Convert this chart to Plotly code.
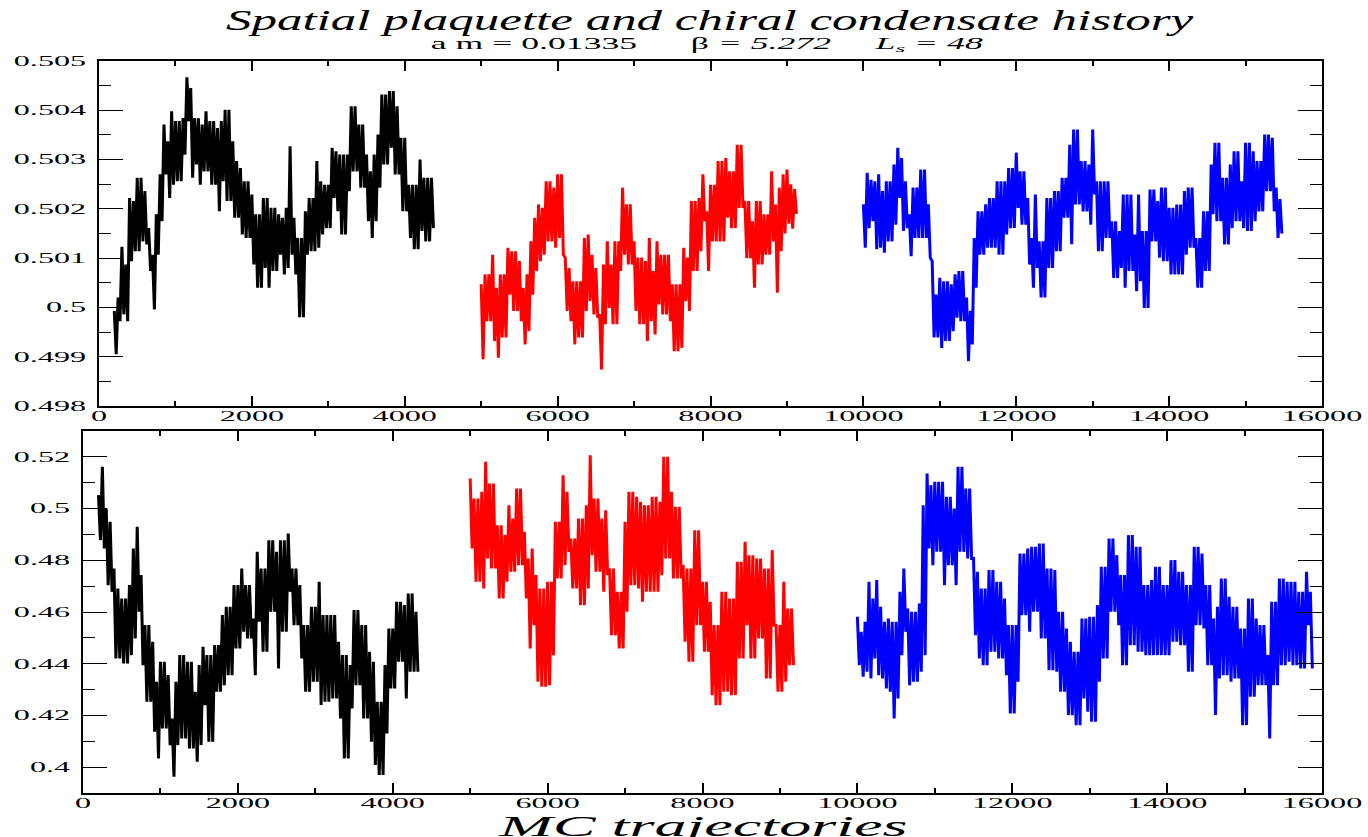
import plotly.graph_objects as go

# Monte Carlo history of three independent streams.  For every block of STEP
# trajectories the highest and the lowest measurement of the block are stored;
# the curve visits the high value first and the low value half a block later.
STEP = 50

# ---------------- spatial plaquette ----------------
PLAQ_START = [200, 5000, 10000]

PLAQ1_HI = [
    0.49993, 0.50020, 0.50123, 0.50087, 0.50222, 0.50216, 0.50263, 0.50263, 0.50236, 0.50161,
    0.50107, 0.50189, 0.50270, 0.50371, 0.50337, 0.50398, 0.50378, 0.50378, 0.50384, 0.50467,
    0.50445, 0.50384, 0.50384, 0.50371, 0.50398, 0.50378, 0.50378, 0.50364, 0.50378, 0.50401,
    0.50401, 0.50337, 0.50297, 0.50283, 0.50256, 0.50256, 0.50229, 0.50189, 0.50189, 0.50222,
    0.50222, 0.50202, 0.50202, 0.50189, 0.50182, 0.50202, 0.50327, 0.50182, 0.50141, 0.50141,
    0.50195, 0.50222, 0.50222, 0.50297, 0.50256, 0.50249, 0.50249, 0.50324, 0.50317, 0.50310,
    0.50310, 0.50310, 0.50408, 0.50408, 0.50371, 0.50371, 0.50310, 0.50276, 0.50310, 0.50351,
    0.50432, 0.50432, 0.50439, 0.50439, 0.50408, 0.50344, 0.50344, 0.50249, 0.50249, 0.50249,
    0.50300, 0.50263, 0.50263, 0.50263,
]
PLAQ1_LO = [
    0.49905, 0.49972, 0.49986, 0.49972, 0.50094, 0.50114, 0.50114, 0.50134, 0.50128, 0.50074,
    0.49996, 0.50107, 0.50175, 0.50270, 0.50222, 0.50249, 0.50256, 0.50256, 0.50310, 0.50378,
    0.50263, 0.50290, 0.50249, 0.50276, 0.50276, 0.50249, 0.50249, 0.50195, 0.50256, 0.50216,
    0.50216, 0.50182, 0.50182, 0.50148, 0.50141, 0.50141, 0.50087, 0.50040, 0.50040, 0.50080,
    0.50040, 0.50074, 0.50074, 0.50107, 0.50067, 0.50080, 0.50107, 0.50067, 0.49980, 0.49980,
    0.50107, 0.50114, 0.50114, 0.50121, 0.50148, 0.50161, 0.50161, 0.50222, 0.50195, 0.50148,
    0.50148, 0.50236, 0.50276, 0.50276, 0.50243, 0.50243, 0.50175, 0.50141, 0.50175, 0.50243,
    0.50290, 0.50290, 0.50324, 0.50270, 0.50270, 0.50195, 0.50195, 0.50141, 0.50118, 0.50118,
    0.50155, 0.50134, 0.50134, 0.50161,
]

PLAQ2_HI = [
    0.50047, 0.50067, 0.50067, 0.50107, 0.50040, 0.50067, 0.50067, 0.50121, 0.50114, 0.50114,
    0.50094, 0.50040, 0.50067, 0.50134, 0.50182, 0.50209, 0.50202, 0.50256, 0.50256, 0.50243,
    0.50270, 0.50270, 0.50101, 0.50080, 0.50053, 0.50053, 0.50053, 0.50141, 0.50148, 0.50107,
    0.50080, 0.49986, 0.50087, 0.50134, 0.50087, 0.50134, 0.50134, 0.50243, 0.50209, 0.50209,
    0.50134, 0.50101, 0.50101, 0.50094, 0.50141, 0.50074, 0.50134, 0.50107, 0.50107, 0.50107,
    0.50047, 0.50047, 0.50047, 0.50121, 0.50101, 0.50216, 0.50216, 0.50222, 0.50270, 0.50195,
    0.50249, 0.50249, 0.50297, 0.50297, 0.50303, 0.50276, 0.50276, 0.50330, 0.50330, 0.50216,
    0.50216, 0.50175, 0.50216, 0.50216, 0.50189, 0.50189, 0.50276, 0.50209, 0.50243, 0.50270,
    0.50280, 0.50250, 0.50240,
]
PLAQ2_LO = [
    0.49895, 0.49972, 0.49972, 0.49932, 0.49898, 0.49939, 0.49939, 0.50026, 0.49993, 0.49993,
    0.49972, 0.49925, 0.49952, 0.50026, 0.50074, 0.50094, 0.50107, 0.50134, 0.50134, 0.50121,
    0.50141, 0.50107, 0.49993, 0.49972, 0.49925, 0.49939, 0.49939, 0.49993, 0.50013, 0.49986,
    0.49979, 0.49874, 0.49966, 0.49999, 0.49966, 0.49966, 0.50074, 0.50107, 0.50087, 0.50087,
    0.49993, 0.49966, 0.49966, 0.49932, 0.49972, 0.49945, 0.50006, 0.49986, 0.49986, 0.49972,
    0.49911, 0.49911, 0.49918, 0.50013, 0.49993, 0.50074, 0.50074, 0.50114, 0.50175, 0.50074,
    0.50134, 0.50134, 0.50134, 0.50134, 0.50182, 0.50161, 0.50161, 0.50202, 0.50202, 0.50100,
    0.50100, 0.50040, 0.50087, 0.50087, 0.50107, 0.50107, 0.50134, 0.50030, 0.50114, 0.50150,
    0.50170, 0.50160, 0.50190,
]

PLAQ3_HI = [
    0.50209, 0.50273, 0.50259, 0.50256, 0.50270, 0.50236, 0.50256, 0.50256, 0.50290, 0.50324,
    0.50303, 0.50256, 0.50189, 0.50243, 0.50243, 0.50280, 0.50280, 0.50209, 0.50094, 0.50026,
    0.50060, 0.50053, 0.50053, 0.50047, 0.50067, 0.50074, 0.50074, 0.50020, 0.49993, 0.50141,
    0.50195, 0.50195, 0.50209, 0.50222, 0.50222, 0.50256, 0.50256, 0.50256, 0.50283, 0.50283,
    0.50314, 0.50276, 0.50276, 0.50222, 0.50141, 0.50229, 0.50134, 0.50134, 0.50222, 0.50222,
    0.50236, 0.50236, 0.50263, 0.50263, 0.50330, 0.50361, 0.50361, 0.50297, 0.50297, 0.50290,
    0.50361, 0.50256, 0.50256, 0.50256, 0.50256, 0.50175, 0.50175, 0.50155, 0.50229, 0.50229,
    0.50229, 0.50148, 0.50229, 0.50155, 0.50155, 0.50239, 0.50239, 0.50216, 0.50243, 0.50243,
    0.50202, 0.50202, 0.50209, 0.50209, 0.50236, 0.50243, 0.50243, 0.50141, 0.50141, 0.50195,
    0.50195, 0.50290, 0.50334, 0.50334, 0.50263, 0.50263, 0.50290, 0.50317, 0.50317, 0.50256,
    0.50334, 0.50334, 0.50317, 0.50297, 0.50297, 0.50351, 0.50351, 0.50344, 0.50243, 0.50220,
]
PLAQ3_LO = [
    0.50121, 0.50161, 0.50175, 0.50118, 0.50121, 0.50111, 0.50134, 0.50134, 0.50168, 0.50222,
    0.50155, 0.50161, 0.50104, 0.50141, 0.50141, 0.50141, 0.50141, 0.50101, 0.49939, 0.49939,
    0.49918, 0.49932, 0.49932, 0.49952, 0.49979, 0.49972, 0.49972, 0.49891, 0.49925, 0.50040,
    0.50107, 0.50107, 0.50121, 0.50121, 0.50121, 0.50107, 0.50107, 0.50148, 0.50161, 0.50161,
    0.50202, 0.50168, 0.50168, 0.50087, 0.50040, 0.50080, 0.50020, 0.50020, 0.50080, 0.50080,
    0.50114, 0.50114, 0.50182, 0.50182, 0.50128, 0.50209, 0.50209, 0.50195, 0.50195, 0.50168,
    0.50229, 0.50114, 0.50114, 0.50141, 0.50141, 0.50060, 0.50060, 0.50080, 0.50040, 0.50074,
    0.50074, 0.50033, 0.50053, 0.49999, 0.49999, 0.50134, 0.50134, 0.50101, 0.50094, 0.50094,
    0.50067, 0.50067, 0.50067, 0.50067, 0.50107, 0.50121, 0.50121, 0.50040, 0.50040, 0.50074,
    0.50074, 0.50189, 0.50175, 0.50175, 0.50128, 0.50128, 0.50161, 0.50175, 0.50175, 0.50161,
    0.50155, 0.50155, 0.50175, 0.50195, 0.50195, 0.50236, 0.50236, 0.50195, 0.50141, 0.50150,
]

# ---------------- chiral condensate ----------------
PBP_START = [200, 5000, 10000]

PBP1_HI = [
    0.50518, 0.51613, 0.50003, 0.49487, 0.47683, 0.46910, 0.46523, 0.46523, 0.47039, 0.48456,
    0.49294, 0.47425, 0.45492, 0.45492, 0.44848, 0.43302, 0.44075, 0.44075, 0.43559, 0.41884,
    0.43302, 0.44332, 0.44332, 0.44075, 0.44075, 0.42915, 0.43946, 0.44655, 0.44332, 0.44332,
    0.44719, 0.44719, 0.45879, 0.46201, 0.46201, 0.47039, 0.47039, 0.47683, 0.47039, 0.47039,
    0.45750, 0.48327, 0.47683, 0.47683, 0.48778, 0.48778, 0.48327, 0.48778, 0.48778, 0.49036,
    0.47683, 0.47683, 0.47039, 0.45492, 0.45492, 0.46201, 0.46201, 0.47168, 0.45879, 0.45879,
    0.45879, 0.45879, 0.44848, 0.44332, 0.44332, 0.43946, 0.46072, 0.46072, 0.45492, 0.45492,
    0.44461, 0.44075, 0.42528, 0.42528, 0.43946, 0.45363, 0.45363, 0.46394, 0.46394, 0.46265,
    0.46716, 0.46716, 0.46008,
]
PBP1_LO = [
    0.48778, 0.48456, 0.47039, 0.46781, 0.44204, 0.44204, 0.44010, 0.44010, 0.44332, 0.44977,
    0.46008, 0.43946, 0.42528, 0.42528, 0.41369, 0.40338, 0.41497, 0.41497, 0.40853, 0.39629,
    0.40853, 0.41111, 0.41111, 0.40724, 0.40724, 0.40209, 0.40853, 0.42400, 0.40982, 0.40982,
    0.42915, 0.42915, 0.43173, 0.43559, 0.43559, 0.44590, 0.44590, 0.45235, 0.44977, 0.44977,
    0.43559, 0.45621, 0.44461, 0.44461, 0.46008, 0.46008, 0.43817, 0.45235, 0.45235, 0.46781,
    0.45492, 0.45492, 0.44204, 0.42915, 0.42915, 0.43302, 0.43302, 0.42400, 0.42528, 0.42528,
    0.42657, 0.42657, 0.41884, 0.40338, 0.40338, 0.42271, 0.43173, 0.43173, 0.41884, 0.41884,
    0.40982, 0.40080, 0.39693, 0.39693, 0.41304, 0.43044, 0.43044, 0.44075, 0.44075, 0.42657,
    0.43688, 0.43688, 0.43688,
]

PBP2_HI = [
    0.51162, 0.50389, 0.50389, 0.50647, 0.51807, 0.50969, 0.50969, 0.49358, 0.49358, 0.48972,
    0.50131, 0.49616, 0.50776, 0.50776, 0.49101, 0.48070, 0.48456, 0.47425, 0.46910, 0.46910,
    0.47168, 0.47168, 0.49487, 0.49487, 0.51291, 0.50647, 0.48843, 0.48843, 0.49616, 0.49616,
    0.50131, 0.52064, 0.50389, 0.50389, 0.49616, 0.49938, 0.47683, 0.47683, 0.46781, 0.46781,
    0.49487, 0.50647, 0.50647, 0.50454, 0.50260, 0.50131, 0.50131, 0.50454, 0.50454, 0.50260,
    0.52000, 0.52000, 0.50647, 0.50067, 0.50067, 0.47812, 0.47683, 0.47683, 0.49165, 0.49165,
    0.47168, 0.47168, 0.46394, 0.45492, 0.45492, 0.46781, 0.46781, 0.46523, 0.46523, 0.47941,
    0.47941, 0.48714, 0.48198, 0.48198, 0.48070, 0.48070, 0.47683, 0.47683, 0.48392, 0.45492,
    0.45492, 0.47168, 0.46137, 0.46137,
]
PBP2_LO = [
    0.48456, 0.47168, 0.47168, 0.46910, 0.48070, 0.47683, 0.47683, 0.46523, 0.46523, 0.47168,
    0.47554, 0.47554, 0.47812, 0.47812, 0.46523, 0.44590, 0.45492, 0.43302, 0.43108, 0.43108,
    0.43173, 0.44332, 0.47296, 0.47296, 0.47812, 0.48327, 0.46910, 0.46910, 0.46265, 0.46265,
    0.46910, 0.48198, 0.47554, 0.47554, 0.46781, 0.47425, 0.45106, 0.45106, 0.44590, 0.44590,
    0.46008, 0.47039, 0.47039, 0.46910, 0.46394, 0.46781, 0.46781, 0.46781, 0.46781, 0.47425,
    0.48070, 0.48070, 0.47296, 0.47296, 0.47296, 0.44848, 0.44075, 0.44075, 0.45492, 0.45492,
    0.44461, 0.44461, 0.42786, 0.42400, 0.42400, 0.42915, 0.42915, 0.42786, 0.42786, 0.44204,
    0.44204, 0.45492, 0.44204, 0.44204, 0.44977, 0.44977, 0.43431, 0.43431, 0.45492, 0.42915,
    0.42915, 0.43302, 0.43946, 0.43946,
]

PBP3_HI = [
    0.45814, 0.45235, 0.45621, 0.47168, 0.46523, 0.47232, 0.46201, 0.45621, 0.45750, 0.45621,
    0.45621, 0.46781, 0.47683, 0.46137, 0.46008, 0.46008, 0.46330, 0.50131, 0.51356, 0.50905,
    0.51034, 0.51034, 0.51034, 0.50454, 0.50454, 0.50003, 0.51613, 0.51613, 0.50776, 0.50776,
    0.48070, 0.47554, 0.46910, 0.46910, 0.47619, 0.47619, 0.47168, 0.47168, 0.46523, 0.45492,
    0.45492, 0.45492, 0.48263, 0.48263, 0.48456, 0.48521, 0.48521, 0.48649, 0.48649, 0.47683,
    0.47683, 0.47619, 0.46008, 0.46008, 0.45363, 0.44848, 0.44461, 0.44461, 0.45750, 0.45750,
    0.45814, 0.45814, 0.46265, 0.47747, 0.47747, 0.48843, 0.48843, 0.48198, 0.47425, 0.47425,
    0.48972, 0.48972, 0.48521, 0.48521, 0.47039, 0.47039, 0.47232, 0.47747, 0.47747, 0.47039,
    0.47039, 0.48005, 0.48005, 0.47554, 0.47554, 0.47039, 0.47039, 0.48521, 0.48521, 0.48263,
    0.47039, 0.47039, 0.45750, 0.46201, 0.47296, 0.47296, 0.46588, 0.46201, 0.46201, 0.45363,
    0.45363, 0.46523, 0.46523, 0.45750, 0.45492, 0.45492, 0.44332, 0.46394, 0.46394, 0.47296,
    0.47296, 0.47168, 0.47168, 0.47168, 0.46781, 0.46781, 0.47554, 0.46781,
]
PBP3_LO = [
    0.43946, 0.43495, 0.43688, 0.43431, 0.44204, 0.43559, 0.43431, 0.43044, 0.42915, 0.41884,
    0.42657, 0.44332, 0.45235, 0.43173, 0.43302, 0.43302, 0.43688, 0.44332, 0.48456, 0.47812,
    0.48327, 0.48327, 0.47039, 0.47812, 0.47812, 0.47039, 0.48327, 0.48327, 0.48070, 0.48070,
    0.45106, 0.44204, 0.43946, 0.43946, 0.44461, 0.44461, 0.44204, 0.44204, 0.43559, 0.42077,
    0.42077, 0.43302, 0.45879, 0.45879, 0.45235, 0.46008, 0.46008, 0.44977, 0.44977, 0.43753,
    0.43753, 0.43688, 0.42915, 0.42915, 0.42013, 0.42013, 0.41626, 0.41626, 0.42657, 0.42142,
    0.41755, 0.41755, 0.43302, 0.44204, 0.44204, 0.46008, 0.46008, 0.45492, 0.43946, 0.43946,
    0.44719, 0.44719, 0.44461, 0.44461, 0.44332, 0.44332, 0.44332, 0.44332, 0.44332, 0.44332,
    0.44332, 0.44848, 0.44848, 0.44719, 0.44719, 0.43688, 0.43688, 0.45492, 0.45492, 0.45363,
    0.43946, 0.43946, 0.42013, 0.43431, 0.43559, 0.43559, 0.43302, 0.43431, 0.43431, 0.41626,
    0.41626, 0.42722, 0.42722, 0.43173, 0.43173, 0.43173, 0.41111, 0.43173, 0.43173, 0.43946,
    0.43946, 0.44075, 0.43946, 0.43946, 0.43817, 0.43817, 0.45492, 0.43817,
]

STREAM_COLORS = ["#000000", "#ff0000", "#0000ff"]

X_RANGE = [0, 16000]
PLAQ_RANGE = [0.498, 0.505]
PBP_RANGE = [0.39, 0.53]

TITLE = "<i>Spatial plaquette and chiral condensate history</i>"
SUBTITLE = ("a m = 0.01335\u00a0\u00a0\u00a0\u00a0\u00a0\u00a0\u03b2 <i>= 5.272</i>"
            "\u00a0\u00a0\u00a0\u00a0\u00a0<i>L<sub>s</sub> = 48</i>")
X_TITLE = "<i>MC trajectories</i>"

W, H = 1368, 837
SERIF = "Liberation Serif, Times New Roman, serif"


def px_x(p):
    return p / W


def px_y(p):
    return 1 - p / H


def history(start, hi, lo):
    """Interleave block maxima and minima into one time-ordered curve."""
    xs, ys = [], []
    for k, (h, l) in enumerate(zip(hi, lo)):
        t = start + STEP * k
        xs += [t, t + STEP // 2]
        ys += [h, l]
    return xs, ys


fig = go.Figure()

panels = (
    (PLAQ_START, ((PLAQ1_HI, PLAQ1_LO), (PLAQ2_HI, PLAQ2_LO), (PLAQ3_HI, PLAQ3_LO)), "x", "y"),
    (PBP_START, ((PBP1_HI, PBP1_LO), (PBP2_HI, PBP2_LO), (PBP3_HI, PBP3_LO)), "x2", "y2"),
)
for starts, streams, xa, ya in panels:
    for start, (hi, lo), color in zip(starts, streams, STREAM_COLORS):
        xs, ys = history(start, hi, lo)
        fig.add_trace(go.Scatter(
            x=xs, y=ys, mode="lines",
            line=dict(color=color, width=3),
            xaxis=xa, yaxis=ya,
            showlegend=False, hoverinfo="skip",
        ))

tick_font = dict(family=SERIF, size=14, color="black")


def x_axis(domain, anchor):
    return dict(
        domain=domain, anchor=anchor, range=X_RANGE,
        showline=True, linecolor="black", linewidth=2, mirror="ticks",
        ticks="inside", ticklen=10, tickwidth=1.5, tickcolor="black",
        tick0=0, dtick=2000, tickformat="d",
        minor=dict(ticks="inside", ticklen=5, tickwidth=1.5, tickcolor="black", dtick=1000),
        showgrid=False, zeroline=False, automargin=False,
        tickfont=tick_font, ticklabelstandoff=-4,
    )


def y_axis(domain, anchor, rng, tick0, dtick):
    return dict(
        domain=domain, anchor=anchor, range=rng,
        showline=True, linecolor="black", linewidth=2, mirror="ticks",
        ticks="inside", ticklen=24, tickwidth=1.2, tickcolor="black",
        tick0=tick0, dtick=dtick, tickformat="~g",
        minor=dict(ticks="inside", ticklen=12, tickwidth=1.2, tickcolor="black", dtick=dtick / 2),
        showgrid=False, zeroline=False, automargin=False,
        tickfont=tick_font, ticklabelstandoff=8,
    )


fig.update_layout(
    width=W, height=H,
    margin=dict(l=0, r=0, t=0, b=0),
    paper_bgcolor="white", plot_bgcolor="white",
    template="none",
    xaxis=x_axis([px_x(99), px_x(1322)], "y"),
    yaxis=y_axis([px_y(406), px_y(61)], "x", PLAQ_RANGE, 0.498, 0.001),
    xaxis2=x_axis([px_x(83), px_x(1322)], "y2"),
    yaxis2=y_axis([px_y(793), px_y(431)], "x2", PBP_RANGE, 0.40, 0.02),
    annotations=[
        dict(text=TITLE, x=px_x(710), y=px_y(19), xref="paper", yref="paper",
             xanchor="center", yanchor="middle", showarrow=False,
             font=dict(family=SERIF, size=30, color="black")),
        dict(text=SUBTITLE, x=px_x(707), y=px_y(44), xref="paper", yref="paper",
             xanchor="center", yanchor="middle", showarrow=False,
             font=dict(family=SERIF, size=16, color="black")),
        dict(text=X_TITLE, x=px_x(703), y=px_y(825), xref="paper", yref="paper",
             xanchor="center", yanchor="middle", showarrow=False,
             font=dict(family=SERIF, size=30, color="black")),
    ],
)

# the typeset labels are set horizontally wide; stretch each text about its anchor point
STRETCH_JS = """
var gd = document.getElementById('{plot_id}');
function stretch(sel, s) {
  gd.querySelectorAll(sel).forEach(function (t) {
    var x = parseFloat(t.getAttribute('x')) || 0;
    var y = parseFloat(t.getAttribute('y')) || 0;
    var tr = t.getAttribute('transform') || '';
    t.setAttribute('transform', tr + ' translate(' + x + ',' + y + ') scale(' + s + ',1) translate(' + (-x) + ',' + (-y) + ')');
  });
}
stretch('.xtick text, .x2tick text, .ytick text, .y2tick text', 2.3);
stretch('.annotation[data-index="0"] text', 1.7);
stretch('.annotation[data-index="1"] text', 2.23);
stretch('.annotation[data-index="2"] text', 2.14);
"""

fig.write_html("out.html", post_script=STRETCH_JS)
